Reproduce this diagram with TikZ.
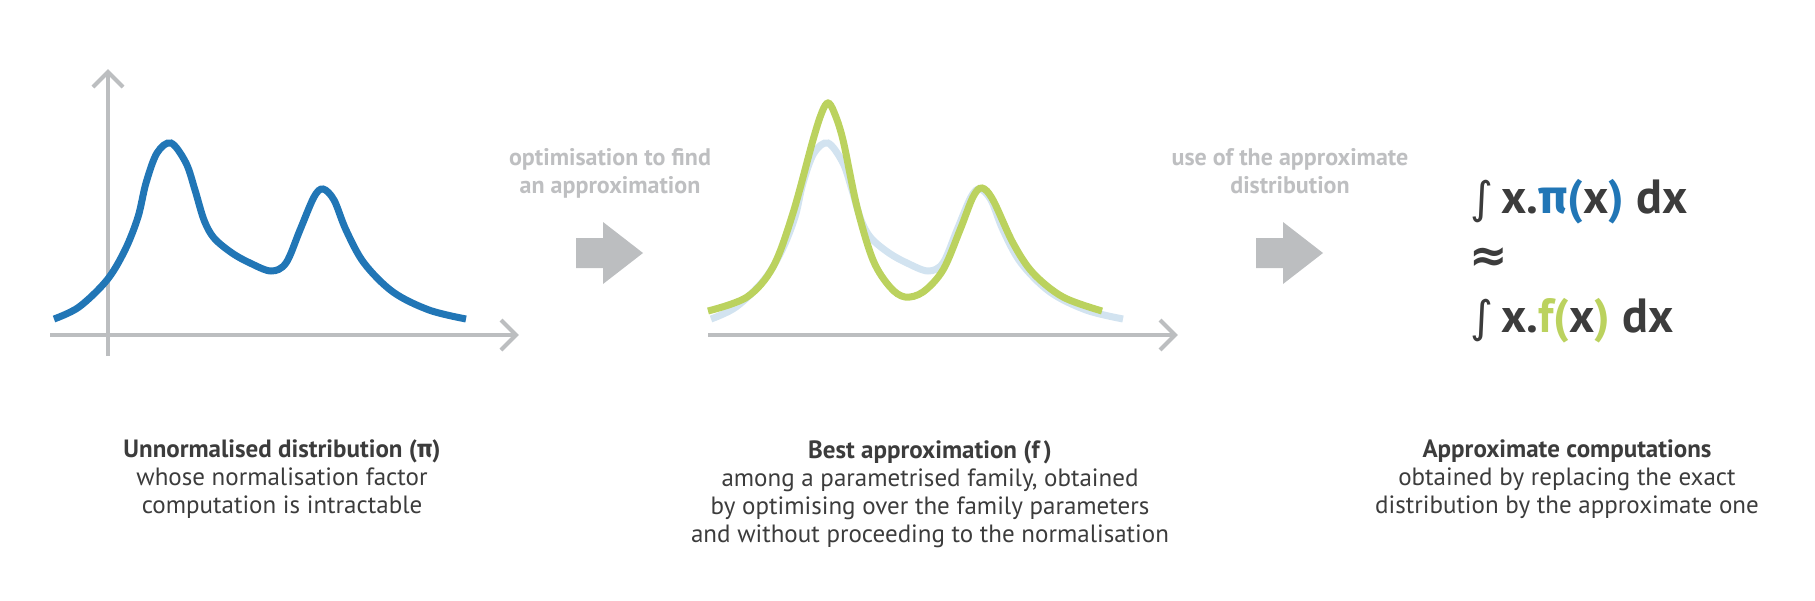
\documentclass[tikz,border=0pt]{standalone}
\usepackage{fontspec}
\setmainfont{PT Sans}
\newfontfamily\grk{Fira Sans}
\newfontfamily\sym{DejaVu Sans}
\definecolor{cblue}{RGB}{33,118,182}
\definecolor{cgreen}{RGB}{187,210,94}
\definecolor{clblue}{RGB}{210,227,240}
\definecolor{caxis}{RGB}{188,190,192}
\definecolor{ctxt}{RGB}{60,60,60}
\definecolor{cgtxt}{RGB}{190,191,193}
\tikzset{
  axisline/.style={draw=caxis, line width=4pt, line cap=butt},
  chev/.style={draw=caxis, line width=4pt, line cap=butt, line join=miter},
  bluecurve/.style={draw=cblue, line width=7pt, line cap=butt},
  lbluecurve/.style={draw=clblue, line width=7pt, line cap=butt},
  greencurve/.style={draw=cgreen, line width=7pt, line cap=butt},
  blockarrow/.style={fill=caxis, draw=none},
  caption/.style={align=center, text=ctxt, inner sep=0pt, anchor=base,
    font=\fontsize{25}{28}\selectfont},
  graylabel/.style={align=center, text=cgtxt, inner sep=0pt, anchor=base,
    font=\fontsize{24}{28}\selectfont\bfseries},
  formula/.style={text=ctxt, inner sep=0pt, anchor=base west,
    font=\fontsize{48}{56}\selectfont\bfseries},
}
\newcommand{\bluepts}{(54,319) (79,307) (107,280) (125,250) (138,217) (146,183) (157,153) (171,143) (186,163) (195,190) (204,220) (214,238) (232,253) (250,263) (271,271) (286,263) (300,230) (314,197) (323,189) (334,200) (346,230) (364,263) (393,292) (429,310) (466,319)}
\newcommand{\intsign}{{\mdseries\sym\fontsize{44}{44}\selectfont ∫}}
\begin{document}
\begin{tikzpicture}[x=1pt,y=-1pt]
\useasboundingbox (0,0) rectangle (1815,600);

% ---------- panel 1 ----------
\coordinate (y1b) at (108,356);
\coordinate (y1t) at (108,72);
\coordinate (y1l) at (93,87);
\coordinate (y1r) at (123,87);
\coordinate (x1l) at (50,335);
\coordinate (x1t) at (516,335);
\coordinate (x1u) at (501,320);
\coordinate (x1d) at (501,350);
\draw[axisline] (y1b) -- (y1t);
\draw[chev] (y1l) -- (y1t) -- (y1r);
\draw[axisline] (x1l) -- (x1t);
\draw[chev] (x1u) -- (x1t) -- (x1d);
\draw[bluecurve] plot[smooth, tension=0.55] coordinates {\bluepts};

% ---------- arrow 1 ----------
\fill[blockarrow] (576,238) -- (603,238) -- (603,222) -- (643,253) -- (603,284) -- (603,268) -- (576,268) -- cycle;
\node[graylabel] (g1) at (610,193) {optimisation to find\\an approximation};

% ---------- panel 2 ----------
\coordinate (x2l) at (708,335);
\coordinate (x2t) at (1175,335);
\coordinate (x2u) at (1160,320);
\coordinate (x2d) at (1160,350);
\draw[axisline] (x2l) -- (x2t);
\draw[chev] (x2u) -- (x2t) -- (x2d);
\begin{scope}[xshift=657pt]
\draw[lbluecurve] plot[smooth, tension=0.55] coordinates {\bluepts};
\end{scope}
\draw[greencurve] plot[smooth, tension=0.55] coordinates {(708,311) (747,297) (773,267) (793,213) (813,140) (822,112) (828,103) (834,112) (843,140) (857,207) (873,260) (890,287) (905,297) (923,292) (943,270) (960,230) (973,197) (982,188) (993,200) (1013,243) (1033,273) (1063,297) (1102,311)};

% ---------- arrow 2 ----------
\fill[blockarrow] (1256,238) -- (1283,238) -- (1283,222) -- (1323,253) -- (1283,284) -- (1283,268) -- (1256,268) -- cycle;
\node[graylabel] (g2) at (1290,193) {use of the approximate\\distribution};

% ---------- formula ----------
\node[formula] (f1) at (1470,213) {\intsign\,x.{\color{cblue}{\grk π}(}x{\color{cblue})} dx};
\node[formula, anchor=west] (f2) at (1469,260) {{\sym\fontsize{46}{46}\selectfont\bfseries ≈}};
\node[formula] (f3) at (1470,332) {\intsign\,x.{\color{cgreen}f(}x{\color{cgreen})} dx};

% ---------- captions ----------
\node[caption] (c1) at (282,513) {\textbf{Unnormalised distribution ({\grk π})}\\whose normalisation factor\\computation is intractable};
\node[caption] (c2) at (930,542) {\textbf{Best approximation (f\,)}\\among a parametrised family, obtained\\by optimising over the family parameters\\and without proceeding to the normalisation};
\node[caption] (c3) at (1567,513) {\textbf{Approximate computations}\\obtained by replacing the exact\\distribution by the approximate one};
\end{tikzpicture}
\end{document}
